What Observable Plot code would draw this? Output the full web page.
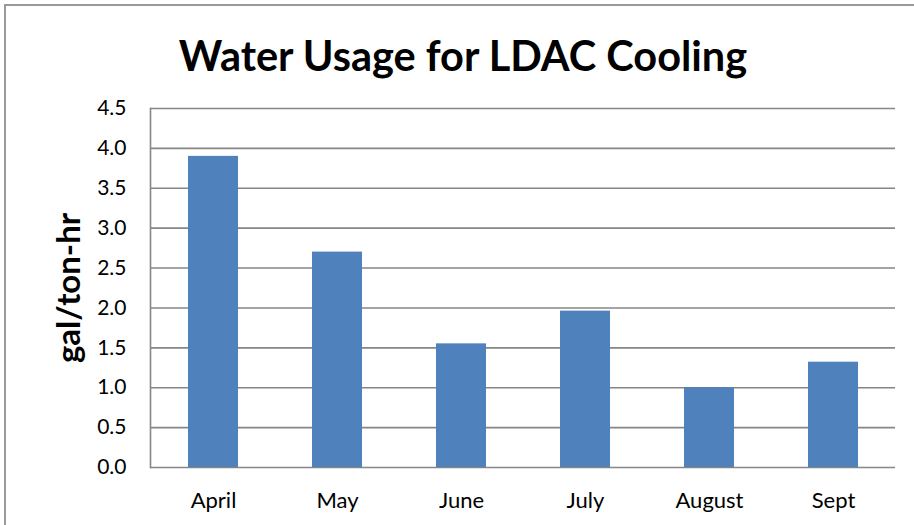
<!DOCTYPE html>
<html>
<head>
<meta charset="utf-8">
<script src="https://cdn.jsdelivr.net/npm/d3@7"></script>
<script src="https://cdn.jsdelivr.net/npm/@observablehq/plot@0.6"></script>
<style>
  html, body { margin: 0; padding: 0; background: #fff; }
  #wrap { position: relative; width: 914px; height: 525px; overflow: hidden; }
  #wrap svg { position: absolute; left: 0; top: 0; }
  #border { position: absolute; left: 4px; top: 4px; width: 1000px; height: 1000px;
            border-left: 2px solid #9a9a9a; border-top: 2px solid #9a9a9a; pointer-events: none; }
</style>
</head>
<body>
<div id="wrap"><div id="border"></div></div>
<script>
const categories = ["April", "May", "June", "July", "August", "Sept"];
const values = [3.9, 2.7, 1.55, 1.96, 1.0, 1.32];
const yTicks = [0, 0.5, 1.0, 1.5, 2.0, 2.5, 3.0, 3.5, 4.0, 4.5];
const title = "Water Usage for LDAC Cooling";
const yLabel = "gal/ton-hr";

const data = categories.map((c, i) => ({month: c, value: values[i]}));

const chart = Plot.plot({
  width: 914,
  height: 525,
  marginTop: 108,
  marginBottom: 58,
  marginLeft: 150,
  marginRight: 19,
  style: {fontFamily: "Lato, 'Open Sans', sans-serif", fontSize: "21px", color: "#000", background: "transparent"},
  x: {domain: categories, paddingInner: 0.6, paddingOuter: 0.3, label: null},
  y: {domain: [0, 4.5], label: null},
  marks: [
    Plot.gridY(yTicks, {stroke: "#868686", strokeOpacity: 1, strokeWidth: 1.6}),
    Plot.frame({anchor: "left", stroke: "#868686", strokeWidth: 1.6}),
    Plot.barY(data, {x: "month", y: "value", fill: "#4f81bd"}),
    Plot.axisY(yTicks, {tickSize: 0, tickPadding: 24, tickFormat: d => d.toFixed(1), fontSize: 21, label: null}),
    Plot.axisX({tickSize: 0, tickPadding: 25, fontSize: 22, label: null}),
    Plot.text([title], {frameAnchor: "top", dx: -60, dy: -67, fontSize: 41.5, fontWeight: "bold"}),
    Plot.text([yLabel], {frameAnchor: "left", textAnchor: "middle", rotate: -90, dx: -81, fontSize: 33, fontWeight: "bold"})
  ]
});
document.getElementById("wrap").prepend(chart);
</script>
</body>
</html>
